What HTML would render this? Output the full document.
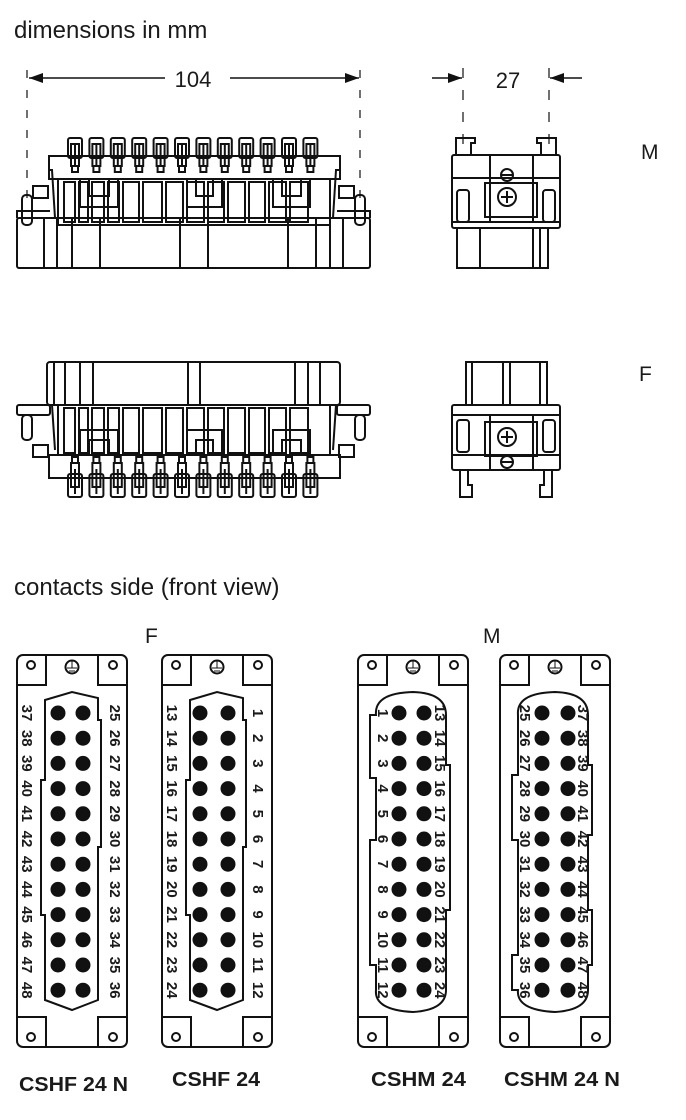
<!DOCTYPE html>
<html><head><meta charset="utf-8">
<style>
html,body{margin:0;padding:0;background:#fff;}
svg{display:block;}
text{font-family:"Liberation Sans",sans-serif;fill:#1a1a1a;}
</style></head>
<body>
<svg id="s" width="686" height="1120" viewBox="0 0 686 1120" xmlns="http://www.w3.org/2000/svg">
<defs>
<marker id="ar" markerWidth="14" markerHeight="10" refX="14" refY="5" orient="auto" markerUnits="userSpaceOnUse">
<path d="M0,0 L14,5 L0,10 z" fill="#111"/></marker>
</defs>
<text x="14" y="38" font-size="24">dimensions in mm</text>
<text x="14" y="595" font-size="24">contacts side (front view)</text>
<text x="641" y="159" font-size="21">M</text>
<text x="639" y="381" font-size="21">F</text>
<text x="145" y="643" font-size="21">F</text>
<text x="483" y="643" font-size="21">M</text>
<line x1="165" y1="78" x2="29" y2="78" stroke="#111" stroke-width="1.6" marker-end="url(#ar)"/>
<line x1="230" y1="78" x2="359" y2="78" stroke="#111" stroke-width="1.6" marker-end="url(#ar)"/>
<text x="193" y="87" font-size="22" text-anchor="middle">104</text>
<line x1="27" y1="70" x2="27" y2="200" stroke="#111" stroke-width="1.2" stroke-dasharray="8,12"/>
<line x1="360" y1="70" x2="360" y2="200" stroke="#111" stroke-width="1.2" stroke-dasharray="8,12"/>
<line x1="432" y1="78" x2="462" y2="78" stroke="#111" stroke-width="1.6" marker-end="url(#ar)"/>
<line x1="582" y1="78" x2="550" y2="78" stroke="#111" stroke-width="1.6" marker-end="url(#ar)"/>
<text x="508" y="88" font-size="22" text-anchor="middle">27</text>
<line x1="463" y1="68" x2="463" y2="150" stroke="#111" stroke-width="1.2" stroke-dasharray="10,12"/>
<line x1="549" y1="68" x2="549" y2="150" stroke="#111" stroke-width="1.2" stroke-dasharray="10,12"/>
<g id="g" fill="none" stroke="#111" stroke-width="2"></g>
<text x="19" y="1091" font-size="20" font-weight="bold" textLength="109" lengthAdjust="spacingAndGlyphs">CSHF 24 N</text>
<text x="172" y="1086" font-size="20" font-weight="bold" textLength="88" lengthAdjust="spacingAndGlyphs">CSHF 24</text>
<text x="371" y="1086" font-size="20" font-weight="bold" textLength="95" lengthAdjust="spacingAndGlyphs">CSHM 24</text>
<text x="504" y="1086" font-size="20" font-weight="bold" textLength="116" lengthAdjust="spacingAndGlyphs">CSHM 24 N</text>
<g id="lab" font-size="15" font-weight="bold"></g>
</svg>
<script>
var g=document.getElementById('g'),L=document.getElementById('lab'),h='',t='';
function R(x,y,w,hh,rx){h+='<rect x="'+x+'" y="'+y+'" width="'+w+'" height="'+hh+'"'+(rx?' rx="'+rx+'"':'')+'/>';}
function Ln(a,b,c,d){h+='<line x1="'+a+'" y1="'+b+'" x2="'+c+'" y2="'+d+'"/>';}
function C(x,y,r,f){h+='<circle cx="'+x+'" cy="'+y+'" r="'+r+'"'+(f?' fill="#111"':'')+'/>';}
function P(d){h+='<path d="'+d+'"/>';}
function comb(cx,top,down){
  if(!down){R(cx-7,top,14,20,2);R(cx-4,top+6,8,22);Ln(cx,top+6,cx,top+28);R(cx-3,top+28,6,6);}
  else{R(cx-7,top+14,14,23,2);R(cx-4,top+3,8,24);Ln(cx,top+9,cx,top+34);R(cx-3,top-3,6,6);}
}
for(var i=0;i<12;i++)comb(75+i*21.4,138,false);
R(49,156,291,23);
R(58,179,272,46);
var sl=[62,77,90,106,121,141,164,185,206,226,247,267,288,310];
for(i=0;i<sl.length-1;i++){R(sl[i]+2,182,sl[i+1]-sl[i]-4,40);}
[[80,118],[187,222],[273,310]].forEach(function(a){R(a[0],179,a[1]-a[0],28);R(a[0]+9,179,a[1]-a[0]-18,17);});
R(17,218,353,50,2);
[44,57,72,100,180,208,288,316,330,343].forEach(function(x){Ln(x,218,x,268);});
R(22,195,10,30,4);R(33,186,15,12);P('M48,170 L52,170 L55,218');P('M17,218 L17,211 L50,211');
R(355,195,10,30,4);R(339,186,15,12);P('M340,170 L336,170 L333,218');P('M370,218 L370,211 L337,211');
R(47,362,293,43,3);
[54,65,80,93,188,200,295,308,320].forEach(function(x){Ln(x,362,x,405);});
R(58,405,272,50);
for(i=0;i<sl.length-1;i++){R(sl[i]+2,408,sl[i+1]-sl[i]-4,45);}
[[80,118],[187,222],[273,310]].forEach(function(a){R(a[0],430,a[1]-a[0],25);R(a[0]+9,440,a[1]-a[0]-18,15);});
R(49,455,291,23);
for(i=0;i<12;i++)comb(75+i*21.4,460,true);
R(17,405,33,10,2);R(22,415,10,25,4);R(33,445,15,12);P('M48,405 L52,405 L55,450');
R(337,405,33,10,2);R(355,415,10,25,4);R(339,445,15,12);P('M340,405 L336,405 L333,450');
P('M456,155 L456,138 L475,138 L475,143 L471,143 L471,155');
P('M556,155 L556,138 L537,138 L537,143 L541,143 L541,155');
R(452,155,108,73,2);
Ln(452,178,560,178);Ln(452,222,560,222);
R(490,155,43,67);R(485,183,52,34);
R(457,228,91,40);Ln(480,228,480,268);Ln(533,228,533,268);Ln(540,228,540,268);
R(457,190,12,32,3);R(543,190,12,32,3);
C(507,197,9);P('M501,197 L513,197 M507,191 L507,203');C(507,175,6);Ln(502,175,512,175);
R(466,362,81,43);Ln(472,362,472,405);Ln(540,362,540,405);Ln(503,362,503,405);Ln(510,362,510,405);
R(452,405,108,65,2);Ln(452,415,560,415);Ln(452,455,560,455);
R(490,415,43,55);R(485,422,52,34);
R(457,420,12,32,3);R(543,420,12,32,3);
C(507,437,9);P('M501,437 L513,437 M507,431 L507,443');C(507,462,6);Ln(502,462,512,462);
P('M460,470 L460,497 L472,497 L472,485 L468,485 L468,470');
P('M552,470 L552,497 L540,497 L540,485 L544,485 L544,470');
function panel(x0,male,cx,lx,ll,rl,flip){
  R(x0,655,110,392,6);
  P('M'+x0+',685 L'+(x0+29)+',685 L'+(x0+29)+',655');
  P('M'+(x0+110)+',685 L'+(x0+81)+',685 L'+(x0+81)+',655');
  P('M'+x0+',1017 L'+(x0+29)+',1017 L'+(x0+29)+',1047');
  P('M'+(x0+110)+',1017 L'+(x0+81)+',1017 L'+(x0+81)+',1047');
  C(x0+14,665,4);C(x0+96,665,4);C(x0+14,1037,4);C(x0+96,1037,4);
  C(x0+55,667,6.5);h+='<path d="M'+(x0+50)+',668 L'+(x0+60)+',668 M'+(x0+52)+',671 L'+(x0+58)+',671 M'+(x0+55)+',661 L'+(x0+55)+',668" stroke-width="1"/>';
  var a=x0+28,b=x0+81;
  if(!male){
    P('M'+a+',700 L'+(x0+55)+',692 L'+b+',698 L'+b+',720 L'+(b+3)+',720 L'+(b+3)+',847 L'+b+',847 L'+b+',1000 L'+(x0+55)+',1010 L'+a+',1000 L'+a+',915 L'+(a-4)+',915 L'+(a-4)+',780 L'+a+',780 Z');
  } else {
    var A=x0+12,B=x0+92,d;
    if(!flip) d='M'+(A+6)+',715 Q'+(A+4)+',693 '+(x0+55)+',692 Q'+(B-4)+',693 '+(B-4)+',715 L'+(B-4)+',765 L'+B+',765 L'+B+',910 L'+(B-4)+',910 L'+(B-4)+',990 Q'+(B-4)+',1010 '+(x0+55)+',1012 Q'+(A+4)+',1010 '+(A+6)+',990 L'+(A+6)+',965 L'+A+',965 L'+A+',840 L'+(A+6)+',840 L'+(A+6)+',778 L'+A+',778 L'+A+',715 Z';
    else d='M'+(A+6)+',715 Q'+(A+4)+',693 '+(x0+55)+',692 Q'+(B-4)+',693 '+(B-4)+',715 L'+(B-4)+',765 L'+B+',765 L'+B+',835 L'+(B-4)+',835 L'+(B-4)+',910 L'+B+',910 L'+B+',965 L'+(B-4)+',965 L'+(B-4)+',990 Q'+(B-4)+',1010 '+(x0+55)+',1012 Q'+(A+4)+',1010 '+(A+6)+',990 L'+A+',990 L'+A+',955 L'+(A+6)+',955 L'+(A+6)+',840 L'+A+',840 L'+A+',775 L'+(A+6)+',775 Z';
    P(d);
  }
  for(var r=0;r<12;r++){var y=713+r*25.2;C(cx[0],y,6.5,1);C(cx[1],y,6.5,1);
    t+='<text transform="translate('+(lx[0]-5)+','+y+') rotate(90)" text-anchor="middle">'+(ll+r)+'</text>';
    t+='<text transform="translate('+(lx[1]-5)+','+y+') rotate(90)" text-anchor="middle">'+(rl+r)+'</text>';}
}
panel(17,false,[58,83],[27,115],37,25,false);
panel(162,false,[200,228],[172,258],13,1,false);
panel(358,true,[399,424],[383,440],1,13,false);
panel(500,true,[542,568],[525,583],25,37,true);
g.innerHTML=h;L.innerHTML=t;
</script>
</body></html>
